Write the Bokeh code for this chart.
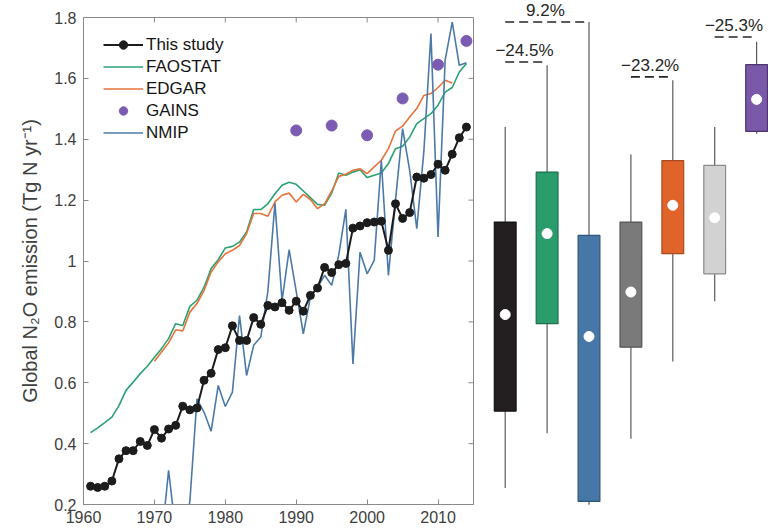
from bokeh.plotting import figure
from bokeh.layouts import row, column
from bokeh.models import Range1d, FixedTicker, Legend, LegendItem, LabelSet, ColumnDataSource
from bokeh.core.properties import value
from bokeh.embed import file_html
from bokeh.resources import INLINE

# ---------------- data ----------------
years = list(range(1961, 2015))
this_study = [0.260, 0.256, 0.260, 0.277, 0.350, 0.377, 0.377, 0.407, 0.394, 0.446,
              0.418, 0.448, 0.460, 0.523, 0.511, 0.517, 0.608, 0.631, 0.709, 0.715,
              0.787, 0.739, 0.739, 0.814, 0.792, 0.854, 0.849, 0.863, 0.838, 0.868,
              0.835, 0.887, 0.911, 0.979, 0.962, 0.988, 0.992, 1.108, 1.115, 1.126,
              1.128, 1.131, 1.035, 1.188, 1.140, 1.159, 1.276, 1.272, 1.284, 1.318,
              1.298, 1.351, 1.405, 1.440]
faostat = [0.436, 0.452, 0.469, 0.487, 0.525, 0.575, 0.602, 0.630, 0.654, 0.684,
           0.712, 0.745, 0.794, 0.788, 0.851, 0.871, 0.914, 0.975, 1.004, 1.043,
           1.048, 1.062, 1.095, 1.169, 1.169, 1.188, 1.221, 1.249, 1.259, 1.252,
           1.230, 1.208, 1.186, 1.183, 1.223, 1.289, 1.282, 1.292, 1.300, 1.274,
           1.282, 1.289, 1.320, 1.369, 1.377, 1.407, 1.451, 1.468, 1.484, 1.512,
           1.555, 1.570, 1.621, 1.649]
edgar_years = list(range(1970, 2013))
edgar = [0.671, 0.701, 0.731, 0.774, 0.770, 0.832, 0.860, 0.903, 0.964, 0.997,
         1.024, 1.035, 1.051, 1.090, 1.156, 1.156, 1.147, 1.194, 1.216, 1.223,
         1.194, 1.219, 1.202, 1.172, 1.188, 1.230, 1.278, 1.285, 1.298, 1.303,
         1.287, 1.309, 1.331, 1.369, 1.427, 1.443, 1.473, 1.501, 1.544, 1.550,
         1.570, 1.594, 1.585]
gains_years = [1990, 1995, 2000, 2005, 2010, 2014]
gains = [1.429, 1.445, 1.413, 1.534, 1.645, 1.723]
nmip = [0.12, 0.10, 0.11, 0.09, 0.12, 0.10, 0.13, 0.11, 0.12, 0.10,
        0.08, 0.312, 0.112, 0.08, 0.21, 0.547, 0.503, 0.441, 0.591, 0.522,
        0.569, 0.821, 0.624, 0.723, 0.750, 0.900, 1.190, 0.870, 1.037, 0.900,
        0.761, 0.881, 0.914, 0.953, 0.920, 1.020, 1.170, 0.662, 1.029, 0.958,
        1.002, 1.330, 0.953, 1.200, 1.435, 1.298, 1.106, 1.360, 1.747, 1.079,
        1.660, 1.785, 1.643, 1.651]

x_ticks = [1960, 1970, 1980, 1990, 2000, 2010]
y_ticks = [0.2, 0.4, 0.6, 0.8, 1.0, 1.2, 1.4, 1.6, 1.8]
y_tick_labels = ["0.2", "0.4", "0.6", "0.8", "1", "1.2", "1.4", "1.6", "1.8"]

# box plots (same units as left axis)
box_names = ["This study", "FAOSTAT", "NMIP", "This study", "EDGAR", "This study", "GAINS"]
box_pos = [1, 2, 3, 4, 5, 6, 7]
box_q1 = [0.507, 0.794, 0.210, 0.717, 1.024, 0.958, 1.426]
box_q3 = [1.128, 1.292, 1.084, 1.128, 1.330, 1.314, 1.645]
box_mid = [0.824, 1.090, 0.752, 0.898, 1.183, 1.142, 1.531]
box_lo = [0.254, 0.434, 0.199, 0.416, 0.670, 0.868, 1.418]
box_hi = [1.440, 1.643, 1.785, 1.350, 1.594, 1.440, 1.720]
box_fill = ["#231f20", "#2b9d6d", "#4677a6", "#7a7a7a", "#e0632a", "#d2d2d2", "#7a59a8"]
box_edge = ["#111111", "#1f6e4c", "#2f557a", "#555555", "#a84a1f", "#8a8a8a", "#4c3670"]

# comparison annotations: from box index -> to box index
cmp_from = [0, 0, 3, 5]
cmp_to = [1, 2, 4, 6]
cmp_level = [1.654, 1.785, 1.605, 1.736]
cmp_label = ["\u221224.5%", "9.2%", "\u221223.2%", "\u221225.3%"]

# ---------------- styling ----------------
FONT = "Liberation Sans"
AX = "#8a8a8a"
TXT = "#404040"
C_STUDY = "#1c1c1c"
C_FAO = "#2aa273"
C_EDGAR = "#e8733a"
C_GAINS = "#7b5cb2"
C_NMIP = "#4b7aa8"

W1, W2, H = 486, 282, 529
FL, FR, FT, FB = 83, 13, 17, 25
X0, X1, Y0, Y1 = 1960, 2015, 0.2, 1.8
frame_w = W1 - FL - FR
frame_h = H - FT - FB
upp = (Y1 - Y0) / frame_h          # data units per pixel (y)
xpp = (X1 - X0) / frame_w          # data units per pixel (x)
TICK = 5

p1 = figure(width=W1, height=H, x_range=Range1d(X0, X1), y_range=Range1d(Y0, Y1),
            output_backend="svg", toolbar_location=None,
            min_border_left=FL, min_border_right=FR, min_border_top=FT, min_border_bottom=FB)
p1.grid.visible = False
p1.outline_line_color = AX
p1.background_fill_color = "white"

for ax in (p1.xaxis[0], p1.yaxis[0]):
    ax.axis_line_color = AX
    ax.major_tick_line_color = AX
    ax.major_tick_in = TICK
    ax.major_tick_out = 0
    ax.minor_tick_line_color = None
    ax.major_label_text_font = FONT
    ax.major_label_text_font_size = "16px"
    ax.major_label_text_color = TXT

p1.xaxis[0].ticker = FixedTicker(ticks=x_ticks)
p1.xaxis[0].major_label_standoff = 6
p1.yaxis[0].ticker = FixedTicker(ticks=y_ticks)
p1.yaxis[0].major_label_overrides = dict(zip(y_ticks, y_tick_labels))
p1.yaxis[0].major_label_standoff = 7
p1.yaxis[0].axis_label = "Global N\u2082O emission (Tg N yr\u207b\u00b9)"
p1.yaxis[0].axis_label_text_font = FONT
p1.yaxis[0].axis_label_text_font_size = "20px"
p1.yaxis[0].axis_label_text_font_style = "normal"
p1.yaxis[0].axis_label_text_color = TXT
p1.yaxis[0].axis_label_standoff = 10

# inward ticks on the top and right edges of the box
p1.segment(x0=x_ticks, y0=[Y1] * len(x_ticks), x1=x_ticks, y1=[Y1 - TICK * upp] * len(x_ticks),
           line_color=AX, line_width=1)
p1.segment(x0=[X1] * len(y_ticks), y0=y_ticks, x1=[X1 - TICK * xpp] * len(y_ticks), y1=y_ticks,
           line_color=AX, line_width=1)

r_fao = p1.line(years, faostat, line_color=C_FAO, line_width=1.6)
r_edgar = p1.line(edgar_years, edgar, line_color=C_EDGAR, line_width=1.6)
r_nmip = p1.line(years, nmip, line_color=C_NMIP, line_width=1.6)
r_gains = p1.scatter(gains_years, gains, size=11, fill_color=C_GAINS, line_color=C_GAINS)
r_sl = p1.line(years, this_study, line_color=C_STUDY, line_width=2)
r_sp = p1.scatter(years, this_study, size=8, fill_color=C_STUDY, line_color=C_STUDY)

legend = Legend(items=[
    LegendItem(label="This study", renderers=[r_sl, r_sp]),
    LegendItem(label="FAOSTAT", renderers=[r_fao]),
    LegendItem(label="EDGAR", renderers=[r_edgar]),
    LegendItem(label="GAINS", renderers=[r_gains]),
    LegendItem(label="NMIP", renderers=[r_nmip]),
], location=(20, frame_h - 20 - 106), margin=0, padding=0, spacing=1,
   glyph_width=40, glyph_height=21, label_height=21, label_standoff=3,
   label_text_font=FONT, label_text_font_size="17px", label_text_color="#151515",
   background_fill_alpha=0, border_line_color=None)
p1.add_layout(legend)

# ---------------- right panel (box plots) ----------------
# its frame fills the whole panel; same data-per-pixel scale as the left frame
px_per_box = 41.9
x2_start = 1 - 18.7 / px_per_box
x2_end = x2_start + W2 / px_per_box
y2_start = Y0 - FB * upp
y2_end = Y1 + FT * upp

p2 = figure(width=W2, height=H, x_range=Range1d(x2_start, x2_end), y_range=Range1d(y2_start, y2_end),
            output_backend="svg", toolbar_location=None, min_border=0,
            x_axis_type=None, y_axis_type=None)
p2.grid.visible = False
p2.outline_line_color = None

WH = "#5a5a5a"
p2.segment(x0=box_pos, y0=box_q3, x1=box_pos, y1=box_hi, line_color=WH, line_width=1.2)
p2.segment(x0=box_pos, y0=box_lo, x1=box_pos, y1=box_q1, line_color=WH, line_width=1.2)
p2.vbar(x=box_pos, width=0.52, bottom=box_q1, top=box_q3, fill_color=box_fill,
        line_color=box_edge, line_width=1.2)
p2.scatter(box_pos, box_mid, size=10, fill_color="white", line_color="white")

dx0 = [box_pos[i] for i in cmp_from]
dx1 = [box_pos[j] - 0.08 for j in cmp_to]
p2.segment(x0=dx0, y0=cmp_level, x1=dx1, y1=cmp_level, line_color="#262626",
           line_width=1.6, line_dash="9 5")
lab_src = ColumnDataSource(dict(
    x=[(a + b) / 2 for a, b in zip(dx0, dx1)],
    y=[lv + 2 * upp for lv in cmp_level],
    t=cmp_label))
p2.add_layout(LabelSet(x="x", y="y", text="t", source=lab_src,
                       text_align="center", text_baseline="bottom",
                       text_font=value(FONT), text_font_size="17px", text_color="#262626"))

layout = row(p1, column(p2))
open("out.html", "w").write(file_html(layout, INLINE))
